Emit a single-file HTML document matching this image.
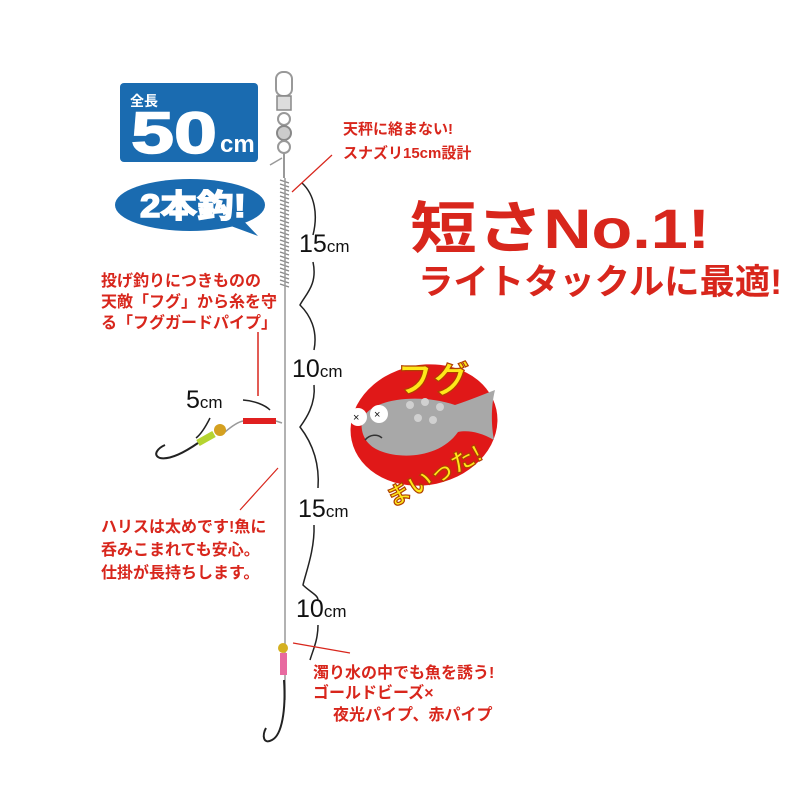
<!DOCTYPE html>
<html><head><meta charset="utf-8"><style>
html,body{margin:0;padding:0;background:#fff}
svg{display:block}
.r{fill:#d8261c;font-family:"Liberation Sans","Noto Sans CJK JP",sans-serif;font-weight:bold}
.k{fill:#111;font-family:"Liberation Sans","Noto Sans CJK JP",sans-serif}
.w{fill:#fff;font-family:"Liberation Sans","Noto Sans CJK JP",sans-serif;font-weight:bold}
.y{fill:#ffe81a;stroke:#b04000;stroke-width:1.2;font-family:"Liberation Sans","Noto Sans CJK JP",sans-serif;font-weight:bold}
</style></head><body>
<svg width="800" height="800" viewBox="0 0 800 800" xmlns="http://www.w3.org/2000/svg">
<rect width="800" height="800" fill="#fff"/>
<rect x="276" y="72" width="16" height="24" rx="7" fill="#fff" stroke="#999" stroke-width="2"/>
<rect x="277" y="96" width="14" height="14" fill="#ddd" stroke="#888" stroke-width="1.5"/>
<circle cx="284" cy="119" r="6" fill="#fff" stroke="#999" stroke-width="2"/>
<circle cx="284" cy="133" r="7" fill="#ccc" stroke="#888" stroke-width="2"/>
<circle cx="284" cy="147" r="6" fill="#fff" stroke="#999" stroke-width="2"/>
<line x1="284" y1="153" x2="284" y2="178" stroke="#999" stroke-width="2"/>
<line x1="270" y1="165" x2="282" y2="158" stroke="#999" stroke-width="1.5"/>
<path d="M280 180 l9 3 M280 184 l9 3 M280 188 l9 3 M280 192 l9 3 M280 196 l9 3 M280 200 l9 3 M280 204 l9 3 M280 208 l9 3 M280 212 l9 3 M280 216 l9 3 M280 220 l9 3 M280 224 l9 3 M280 228 l9 3 M280 232 l9 3 M280 236 l9 3 M280 240 l9 3 M280 244 l9 3 M280 248 l9 3 M280 252 l9 3 M280 256 l9 3 M280 260 l9 3 M280 264 l9 3 M280 268 l9 3 M280 272 l9 3 M280 276 l9 3 M280 280 l9 3 M280 284 l9 3" stroke="#888" stroke-width="1.3"/>
<line x1="285" y1="178" x2="285" y2="700" stroke="#999" stroke-width="1.5"/>
<circle cx="283" cy="648" r="5" fill="#d4b020"/>
<rect x="280" y="653" width="7" height="22" fill="#e86aa0"/>
<path d="M284 680 C286 710 282 735 272 740 C263 745 262 735 266 728" fill="none" stroke="#222" stroke-width="2"/>
<path d="M302 183 C315 195 318 215 313 235 M313 262 C318 285 305 295 300 305 C310 315 318 330 314 350" fill="none" stroke="#222" stroke-width="1.5"/>
<path d="M314 385 C316 405 305 420 300 427 C310 440 320 460 318 488" fill="none" stroke="#222" stroke-width="1.5"/>
<path d="M314 525 C315 550 305 575 303 585 C310 592 318 595 318 600" fill="none" stroke="#222" stroke-width="1.5"/>
<path d="M318 625 C318 640 313 650 310 660" fill="none" stroke="#222" stroke-width="1.5"/>
<text x="299" y="252" class="k" font-size="25">15<tspan font-size="17">cm</tspan></text>
<text x="292" y="377" class="k" font-size="25">10<tspan font-size="17">cm</tspan></text>
<text x="186" y="408" class="k" font-size="25">5<tspan font-size="17">cm</tspan></text>
<text x="298" y="517" class="k" font-size="25">15<tspan font-size="17">cm</tspan></text>
<text x="296" y="617" class="k" font-size="25">10<tspan font-size="17">cm</tspan></text>
<path d="M243 400 C255 401 265 405 270 410" fill="none" stroke="#222" stroke-width="1.5"/>
<path d="M210 418 C205 428 200 435 196 438" fill="none" stroke="#222" stroke-width="1.5"/>
<rect x="243" y="418" width="33" height="6" fill="#e02020"/>
<path d="M225 432 C232 426 238 422 243 421 M276 421 L282 423" stroke="#999" stroke-width="1.5" fill="none"/>
<circle cx="220" cy="430" r="6" fill="#d4a020"/>
<path d="M198 443 L214 434" stroke="#b5d430" stroke-width="7"/>
<path d="M198 443 C185 452 170 460 160 458 C152 455 158 448 165 445" fill="none" stroke="#222" stroke-width="2"/>
<line x1="332" y1="155" x2="292" y2="192" stroke="#d8261c" stroke-width="1.2"/>
<line x1="258" y1="332" x2="258" y2="396" stroke="#d8261c" stroke-width="1.5"/>
<line x1="278" y1="468" x2="240" y2="510" stroke="#d8261c" stroke-width="1.2"/>
<line x1="293" y1="643" x2="350" y2="653" stroke="#d8261c" stroke-width="1.2"/>
<rect x="120" y="83" width="138" height="79" rx="4" fill="#1a6bb0"/>
<text x="130" y="106" class="w" font-size="14">全長</text>
<text x="131" y="153" class="w" font-size="58" stroke="#fff" stroke-width="1.5" textLength="86" lengthAdjust="spacingAndGlyphs">50</text>
<text x="220" y="152" class="w" font-size="24">cm</text>
<ellipse cx="190" cy="205" rx="75" ry="26" fill="#1a6bb0"/>
<path d="M220 222 L258 236 L238 215 Z" fill="#1a6bb0"/>
<text x="140" y="217" class="w" font-size="32" stroke="#fff" stroke-width="1.5" textLength="106" lengthAdjust="spacingAndGlyphs">2本鈎!</text>
<text x="343" y="134" class="r" font-size="15">天秤に絡まない!</text>
<text x="343" y="158" class="r" font-size="15">スナズリ15cm設計</text>
<text x="410" y="248" class="r" font-size="56" textLength="300" lengthAdjust="spacingAndGlyphs">短さNo.1!</text>
<text x="418" y="294" class="r" font-size="35" textLength="364" lengthAdjust="spacingAndGlyphs">ライトタックルに最適!</text>
<text x="101" y="286" class="r" font-size="16">投げ釣りにつきものの</text>
<text x="101" y="307" class="r" font-size="16">天敵「フグ」から糸を守</text>
<text x="101" y="328" class="r" font-size="16">る「フグガードパイプ」</text>
<text x="101" y="532" class="r" font-size="16">ハリスは太めです!魚に</text>
<text x="101" y="555" class="r" font-size="16">呑みこまれても安心。</text>
<text x="101" y="578" class="r" font-size="16">仕掛が長持ちします。</text>
<text x="313" y="678" class="r" font-size="16">濁り水の中でも魚を誘う!</text>
<text x="313" y="698" class="r" font-size="16">ゴールドビーズ×</text>
<text x="333" y="720" class="r" font-size="16">夜光パイプ、赤パイプ</text>
<ellipse cx="424" cy="425" rx="74" ry="60" transform="rotate(-12 424 425)" fill="#e01818"/>
<path d="M362 420 C370 398 420 393 455 405 C470 400 482 395 495 390 C490 410 492 430 494 440 C480 432 468 430 458 432 C440 458 400 460 378 450 C365 444 360 432 362 420 Z" fill="#a8a8a8"/>
<g fill="#d0d0d0"><circle cx="410" cy="405" r="4"/><circle cx="425" cy="402" r="4"/><circle cx="440" cy="407" r="4"/><circle cx="418" cy="418" r="4"/><circle cx="433" cy="420" r="4"/></g>
<circle cx="358" cy="417" r="9" fill="#fff"/><circle cx="379" cy="414" r="9" fill="#fff"/>
<text x="353" y="421" font-size="11" class="k">×</text>
<text x="374" y="418" font-size="11" class="k">×</text>
<path d="M365 440 C370 434 378 434 382 438" stroke="#333" stroke-width="1.5" fill="none"/>
<text x="397" y="392" class="y" font-size="36">フグ</text>
<text x="378" y="490" transform="rotate(-28 420 470)" class="y" font-size="24">まいった!</text>
</svg>
</body></html>
